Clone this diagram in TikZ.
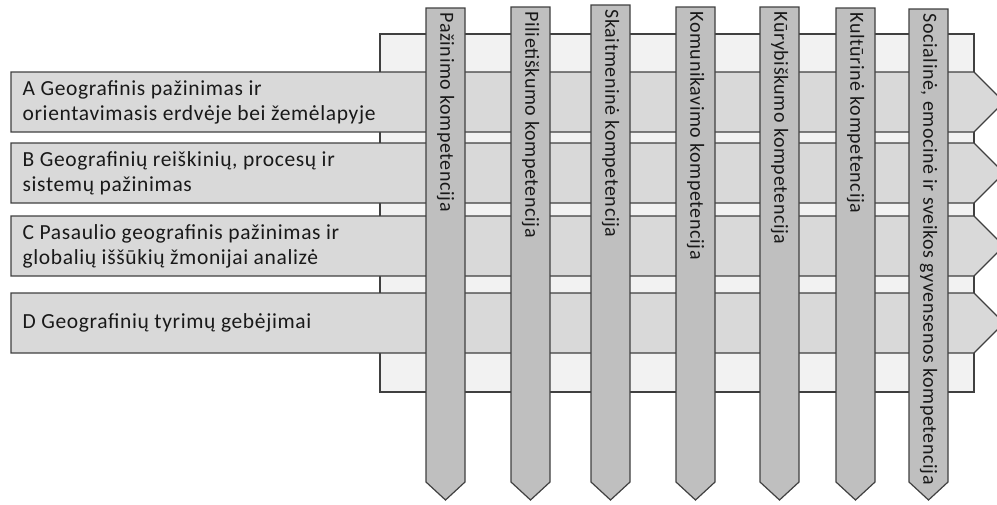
\documentclass[tikz,border=0pt]{standalone}
\usepackage{fontspec}
\setmainfont{Carlito}[LetterSpace=3]
\usetikzlibrary{positioning}

\begin{document}
\begin{tikzpicture}[x=1pt,y=-1pt,line width=1.2pt,line join=miter]
        \tikzstyle{backbox}=[fill=black!5,draw=black!75]
        \tikzstyle{rowbar}=[fill=black!15,draw=black!75]
        \tikzstyle{colbar}=[fill=black!25,draw=black!75]
        \tikzstyle{rowtext}=[anchor=west,align=left,inner sep=0pt,text=black!90,font=\fontsize{21.5}{25}\selectfont]
        \tikzstyle{coltext}=[anchor=west,rotate=-90,inner sep=0pt,text=black!90,font=\fontsize{20}{22}\selectfont]

        \useasboundingbox (0,0) rectangle (997,504);
        \draw[backbox] (380,34) rectangle (974,392);

        % rows
        \foreach \t/\b in {72/132,143/203,216/276,293/353}
            \draw[rowbar] (11,\t) -- (974,\t) -- ({974+(\b-\t)/2},{(\t+\b)/2}) -- (974,\b) -- (11,\b) -- cycle;

        \node[rowtext] (A) at (22,102) {A Geografinis pažinimas ir\\orientavimasis erdvėje bei žemėlapyje};
        \node[rowtext] (B) at (22,173) {B Geografinių reiškinių, procesų ir\\sistemų pažinimas};
        \node[rowtext] (C) at (22,246) {C Pasaulio geografinis pažinimas ir\\globalių iššūkių žmonijai analizė};
        \node[rowtext] (D) at (22,323) {D Geografinių tyrimų gebėjimai};

        % columns
        \foreach \x/\t/\n [count=\i] in {426/8/Pažinimo kompetencija,
                                          511/7/Pilietiškumo kompetencija,
                                          591/5/Skaitmeninė kompetencija,
                                          676/7/Komunikavimo kompetencija,
                                          760/7/Kūrybiškumo kompetencija,
                                          836/8/Kultūrinė kompetencija,
                                          909/9/{Socialinė, emocinė ir sveikos gyvensenos kompetencija}}
        {
            \draw[colbar] (\x,\t) -- (\x+39,\t) -- (\x+39,482) -- (\x+19.5,500) -- (\x,482) -- cycle;
            \node[coltext] (k\i) at (\x+19.5,\t+4) {\n};
        }
\end{tikzpicture}
\end{document}
